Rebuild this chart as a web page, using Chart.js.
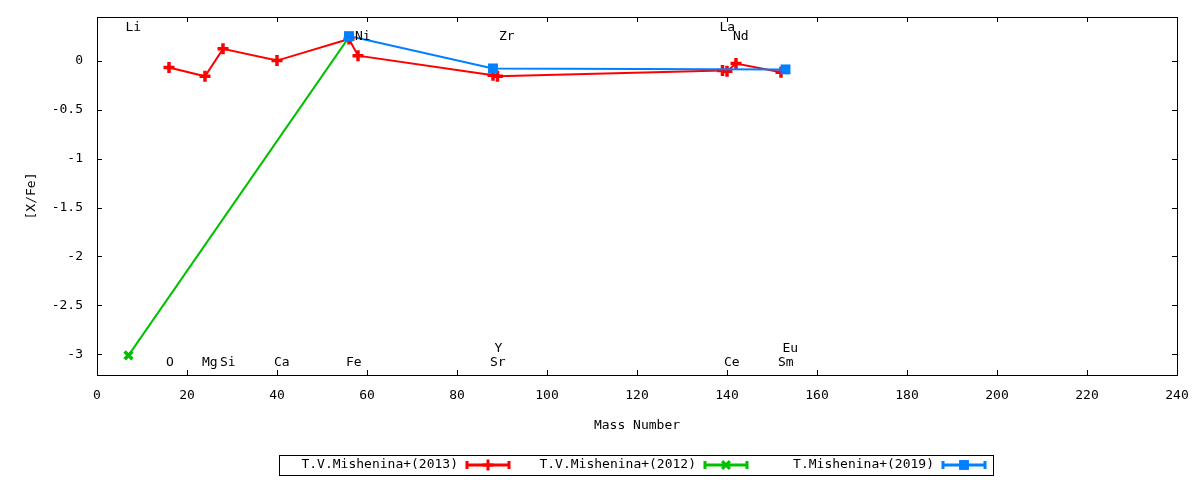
<!DOCTYPE html>
<html>
<head>
<meta charset="utf-8">
<script src="https://cdn.jsdelivr.net/npm/chart.js@4/dist/chart.umd.min.js"></script>
<style>
html, body { margin: 0; padding: 0; background: #fff; }
#wrap { width: 1200px; height: 480px; }
</style>
</head>
<body>
<div id="wrap"><canvas id="chart"></canvas></div>
<script>
// [X/Fe] vs mass number, three data sets
var mass2013 = [16, 24, 28, 40, 56, 58, 88, 89, 139, 140, 142, 152];
var xfe2013 = [-0.07, -0.16, 0.12, 0.0, 0.22, 0.05, -0.15, -0.16, -0.10, -0.11, -0.03, -0.12];
var mass2012 = [7, 56];
var xfe2012 = [-3.01, 0.24];
var mass2019 = [56, 88, 153];
var xfe2019 = [0.25, -0.08, -0.09];

// element labels
var elemNames = ['Li', 'O', 'Mg', 'Si', 'Ca', 'Fe', 'Ni', 'Sr', 'Y', 'Zr', 'La', 'Ce', 'Nd', 'Sm', 'Eu'];
var elemMass = [7, 16, 24, 28, 40, 56, 58, 88, 89, 90, 139, 140, 142, 152, 153];
var elemLevel = [0.34, -3.08, -3.08, -3.08, -3.08, -3.08, 0.24, -3.08, -2.94, 0.24, 0.34, -3.08, 0.24, -3.08, -2.94];

var xTicks = [0, 20, 40, 60, 80, 100, 120, 140, 160, 180, 200, 220, 240];
var yTicks = [-3, -2.5, -2, -1.5, -1, -0.5, 0];

var FONT = '"DejaVu Sans Mono", monospace';

function toPoints(xs, ys) {
	var pts = [];
	for (var i = 0; i < xs.length; i++) {
		pts.push({x: xs[i], y: ys[i]});
	}
	return pts;
}

var frame = {
	id: 'frame',
	afterDatasetsDraw: function (chart) {
		var ctx = chart.ctx;
		var xs = chart.scales.x, ys = chart.scales.y;
		ctx.save();
		ctx.fillStyle = '#000';
		ctx.font = '13px ' + FONT;
		ctx.textAlign = 'left';
		ctx.textBaseline = 'middle';
		for (var i = 0; i < elemNames.length; i++) {
			ctx.fillText(elemNames[i], xs.getPixelForValue(elemMass[i]) - 3, ys.getPixelForValue(elemLevel[i]));
		}
		ctx.restore();
	},
	afterDraw: function (chart) {
		var ctx = chart.ctx, a = chart.chartArea;
		var xs = chart.scales.x, ys = chart.scales.y;
		ctx.save();
		ctx.strokeStyle = '#000';
		ctx.lineWidth = 1;
		ctx.beginPath();
		xs.ticks.forEach(function (t) {
			var px = Math.round(xs.getPixelForValue(t.value)) + 0.5;
			ctx.moveTo(px, a.bottom); ctx.lineTo(px, a.bottom - 5);
			ctx.moveTo(px, a.top); ctx.lineTo(px, a.top + 5);
		});
		ys.ticks.forEach(function (t) {
			var py = Math.round(ys.getPixelForValue(t.value)) + 0.5;
			ctx.moveTo(a.left, py); ctx.lineTo(a.left + 5, py);
			ctx.moveTo(a.right, py); ctx.lineTo(a.right - 5, py);
		});
		ctx.stroke();
		ctx.strokeRect(Math.round(a.left) + 0.5, Math.round(a.top) + 0.5,
			Math.round(a.right - a.left), Math.round(a.bottom - a.top));

		// legend box, gnuplot style
		var sets = chart.data.datasets;
		var entryW = 238, boxW = entryW * sets.length;
		var x0 = Math.round((a.left + a.right) / 2 - boxW / 2) - 1;
		var yTop = 455, yMid = 465;
		ctx.strokeRect(x0 + 0.5, yTop + 0.5, boxW, 20);
		ctx.font = '13px ' + FONT;
		ctx.textAlign = 'right';
		ctx.textBaseline = 'middle';
		for (var i = 0; i < sets.length; i++) {
			var ds = sets[i];
			var ex = x0 + i * entryW;
			ctx.fillStyle = '#000';
			ctx.fillText(ds.label, ex + 179, yMid);
			ctx.strokeStyle = ds.borderColor;
			ctx.fillStyle = ds.borderColor;
			ctx.lineWidth = 3;
			ctx.beginPath();
			ctx.moveTo(ex + 187, yMid); ctx.lineTo(ex + 231, yMid);
			ctx.moveTo(ex + 188, yMid - 4); ctx.lineTo(ex + 188, yMid + 4);
			ctx.moveTo(ex + 230, yMid - 4); ctx.lineTo(ex + 230, yMid + 4);
			ctx.stroke();
			Chart.helpers.drawPoint(ctx, {
				pointStyle: ds.pointStyle,
				radius: ds.pointRadius,
				borderWidth: ds.pointBorderWidth,
				rotation: 0
			}, ex + 209, yMid);
		}
		ctx.restore();
	}
};

var chart = new Chart(document.getElementById('chart'), {
	type: 'scatter',
	data: {
		datasets: [{
			label: 'T.V.Mishenina+(2013)',
			data: toPoints(mass2013, xfe2013),
			showLine: true,
			borderColor: '#ff0000',
			backgroundColor: '#ff0000',
			borderWidth: 2,
			pointStyle: 'cross',
			pointRadius: 5.5,
			pointBorderWidth: 3.5,
			order: 3
		}, {
			label: 'T.V.Mishenina+(2012)',
			data: toPoints(mass2012, xfe2012),
			showLine: true,
			borderColor: '#00c000',
			backgroundColor: '#00c000',
			borderWidth: 2,
			pointStyle: 'crossRot',
			pointRadius: 5.5,
			pointBorderWidth: 3.5,
			order: 2
		}, {
			label: 'T.Mishenina+(2019)',
			data: toPoints(mass2019, xfe2019),
			showLine: true,
			borderColor: '#0080ff',
			backgroundColor: '#0080ff',
			borderWidth: 2,
			pointStyle: 'rect',
			pointRadius: 7,
			pointBorderWidth: 0,
			order: 1
		}]
	},
	options: {
		responsive: true,
		maintainAspectRatio: false,
		animation: false,
		layout: {padding: {left: 0, right: 23, top: 17, bottom: 45}},
		plugins: {
			legend: {display: false},
			tooltip: {enabled: false}
		},
		scales: {
			x: {
				type: 'linear',
				min: 0,
				max: 240,
				afterBuildTicks: function (s) { s.ticks = xTicks.map(function (v) { return {value: v}; }); },
				afterFit: function (s) { s.height = 60; s.paddingLeft = 0; s.paddingRight = 0; },
				grid: {display: false, drawTicks: false},
				border: {display: false},
				ticks: {color: '#000', padding: 13, maxRotation: 0, font: {family: FONT, size: 13}},
				title: {display: true, text: 'Mass Number', color: '#000', padding: {top: 0, bottom: 2}, font: {family: FONT, size: 13}}
			},
			y: {
				type: 'linear',
				min: -3.21,
				max: 0.445,
				afterBuildTicks: function (s) { s.ticks = yTicks.map(function (v) { return {value: v}; }); },
				afterFit: function (s) { s.width = 97; s.paddingTop = 0; s.paddingBottom = 0; },
				grid: {display: false, drawTicks: false},
				border: {display: false},
				ticks: {color: '#000', padding: 14, font: {family: FONT, size: 13},
					callback: function (v) { return String(v); }},
				title: {display: true, text: '[X/Fe]', color: '#000', padding: {top: 24, bottom: 0}, font: {family: FONT, size: 13}}
			}
		}
	},
	plugins: [frame]
});
</script>
</body>
</html>
